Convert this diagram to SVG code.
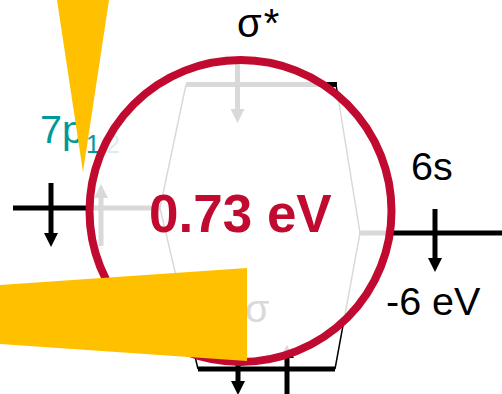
<svg xmlns="http://www.w3.org/2000/svg" width="502" height="394" viewBox="0 0 502 394">
<style>
text{font-family:"Liberation Sans",Arial,sans-serif;font-size:39.500px;fill:#000}
.lv,.ar{stroke:currentColor;stroke-width:5;fill:none}
.hd{fill:currentColor}
.thin{stroke:currentColor;stroke-width:1.5;fill:none}
.out{color:#000}
.in{color:#d9d9d9}
</style>
<defs>
<clipPath id="inside"><circle cx="240.500" cy="211" r="151"/></clipPath>
<g id="art">
<path class="lv" d="M13 208H160"/>
<path class="lv" d="M186 84.500H337"/>
<path class="lv" d="M359 233H502"/>
<path class="lv" d="M198 369H335"/>
<path class="thin" d="M186 84.500L160 208L198 369M336 84.500L360 233L335 369"/>
<path class="ar" d="M51 183V235"/><path class="hd" d="M44 233H58L51 247Z"/>
<path class="ar" d="M101 198V246"/><path class="hd" d="M94 198H108L101 184Z"/>
<path class="ar" d="M237.500 60V110"/><path class="hd" d="M230.500 109H244.500L237.500 123Z"/>
<path class="ar" d="M435 209V260"/><path class="hd" d="M428 258H442L435 272Z"/>
<path class="ar" d="M238 345V385"/><path class="hd" d="M231 381H245L238 395Z"/>
<path class="ar" d="M287 357V394"/><path class="hd" d="M280 358H294L287 345Z"/>
</g>
</defs>
<rect width="502" height="394" fill="#fff"/>
<g id="connectors">
<use href="#art" class="out"/>
<circle cx="240.500" cy="211" r="151" fill="#fff"/>
<g clip-path="url(#inside)"><use href="#art" class="in"/></g>
</g>
<g id="label-sigma-star"><text x="237" y="37" style="font-size:40px;letter-spacing:2px">σ*</text></g>
<g id="level-7p">
<text x="40" y="143" style="fill:#009999">7p</text>
<text x="86" y="153" style="fill:#009999;font-size:25px">1</text>
<text x="106" y="153" style="fill:#d9eeee;font-size:25px">2</text>
</g>
<g id="level-6s"><text x="411" y="180">6s</text><text x="386" y="315">-6 eV</text></g>
<g id="label-sigma"><text x="245" y="322" style="fill:#d9d9d9">σ</text></g>
<g id="callout-ring"><circle cx="240.500" cy="211" r="151" fill="none" stroke="#C00A2F" stroke-width="8"/></g>
<g id="callout-label"><text x="149" y="232" style="fill:#C00A2F;font-weight:bold;font-size:53px">0.73 eV</text></g>
<g id="pointers" fill="#FFC000">
<path d="M57 0H109L83 172Z"/>
<path d="M0 285L247 268V361L0 344Z"/>
</g>
</svg>
